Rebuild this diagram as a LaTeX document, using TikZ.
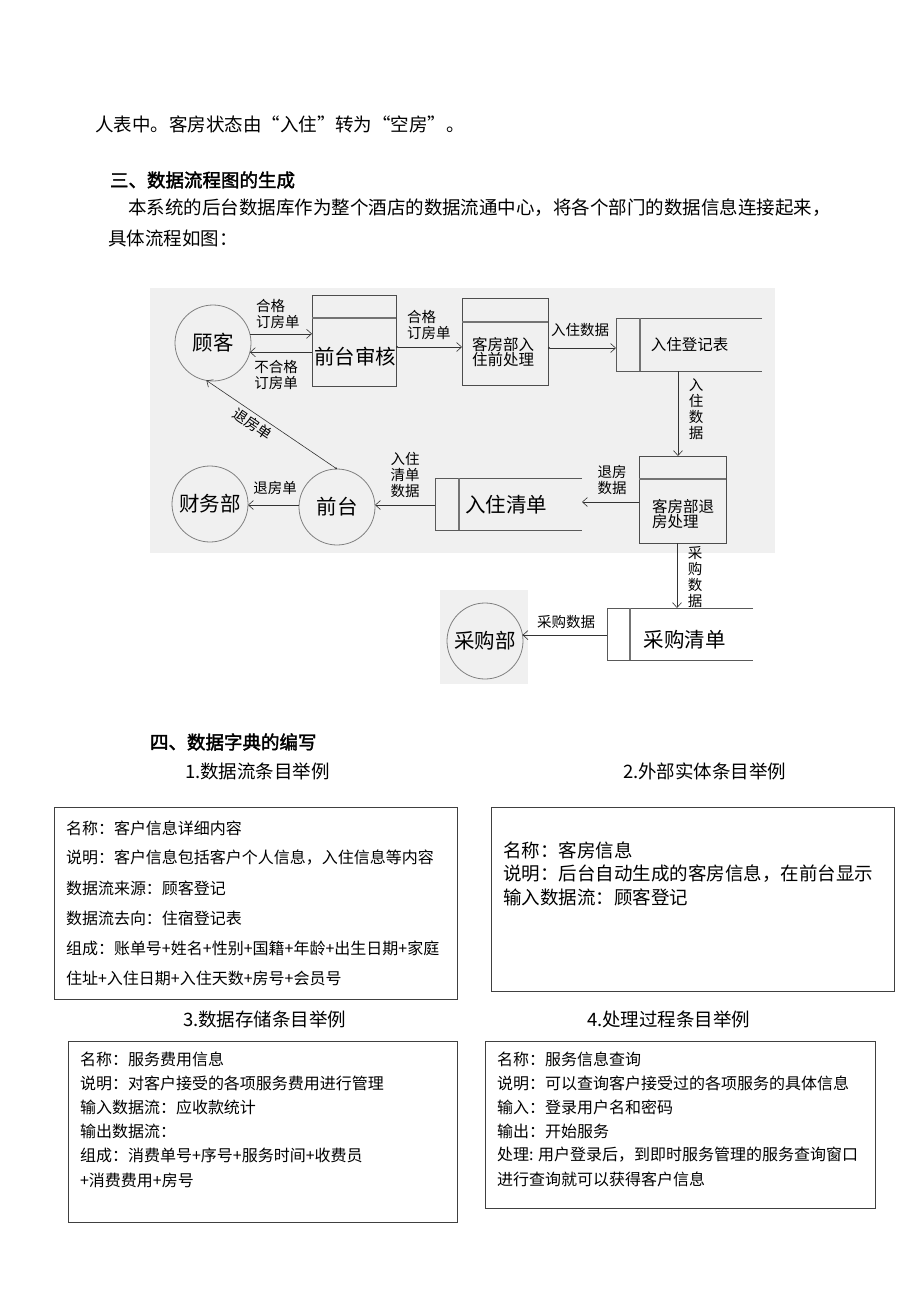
\documentclass[tikz,border=0pt]{standalone}
\usepackage{fontspec}
\setmainfont[AutoFakeBold=2]{Noto Sans CJK SC}
\usetikzlibrary{arrows.meta}
\begin{document}
\begin{tikzpicture}[x=1pt,y=-1pt,
  every node/.style={inner sep=0pt, outer sep=0pt},
  body/.style={anchor=west, font=\fontsize{18.5}{22}\selectfont},
  bodyb/.style={anchor=west, font=\fontsize{18.5}{22}\selectfont\bfseries},
  circ/.style={circle, draw=black!50, line width=0.8pt, minimum size=76pt, font=\fontsize{20.5}{24}\selectfont},
  proc/.style={rectangle, draw=black!70, line width=0.8pt},
  divl/.style={draw=black!55, line width=1.8pt},
  storebox/.style={rectangle, draw=none},
  stl/.style={draw=black!65, line width=0.8pt},
  inl/.style={draw=black!55, line width=1.6pt},
  lbl/.style={font=\fontsize{14.5}{16}\selectfont, align=left},
  vlbl/.style={font=\fontsize{14.5}{16}\selectfont, align=center},
  ptext/.style={font=\fontsize{15.5}{15}\selectfont, align=left},
  big/.style={font=\fontsize{20.5}{24}\selectfont},
  arr/.style={draw=black!80, line width=0.6pt, -{Straight Barb[length=5pt,width=9pt]}},
  darr/.style={draw=black!80, line width=0.6pt, {Circle[length=2pt]}-{Straight Barb[length=5pt,width=9pt]}},
  tbox/.style={rectangle, draw=black!75, line width=1pt},
  tline/.style={anchor=west, font=\fontsize{16}{18}\selectfont},
  tlinebig/.style={anchor=west, font=\fontsize{18.5}{20}\selectfont}
]
\useasboundingbox (0,0) rectangle (920,1302);
\fill[white] (0,0) rectangle (920,1302);

% backgrounds of the diagram picture
\fill[black!6] (150,288) rectangle (775,553);
\fill[black!6] (440,590) rectangle (528,684);

% top text
\node[body] (t1) at (95,124) {人表中。客房状态由“入住”转为“空房”。};
\node[bodyb] (t2) at (110,180) {三、数据流程图的生成};
\node[body] (t3) at (128,208) {本系统的后台数据库作为整个酒店的数据流通中心，将各个部门的数据信息连接起来，};
\node[body] (t4) at (108,238) {具体流程如图：};

% circles
\node[circ] (gk) at (213,343) {顾客};
\node[circ] (qt) at (337,507) {前台};
\node[circ] (cwb) at (210,504) {财务部};
\node[circ] (cgb) at (485,641) {采购部};

% process boxes
\node[proc, minimum width=84pt, minimum height=91pt] (qtsh) at (354,340.5) {};
\draw[divl] ([yshift=-23pt]qtsh.north west) -- ([yshift=-23pt]qtsh.north east);
\node[big] (qtshT) at (355,357) {前台审核};

\node[proc, minimum width=86pt, minimum height=87pt] (kfrz) at (505,341.5) {};
\draw[divl] ([yshift=-24pt]kfrz.north west) -- ([yshift=-24pt]kfrz.north east);
\node[ptext, anchor=west] (kfrzT) at (472,352) {客房部入\\住前处理};

\node[proc, minimum width=87pt, minimum height=87pt] (kftf) at (682.5,499.5) {};
\draw[divl] ([yshift=-23pt]kftf.north west) -- ([yshift=-23pt]kftf.north east);
\node[ptext, anchor=west] (kftfT) at (652,514) {客房部退\\房处理};

% data stores
\node[storebox, minimum width=146pt, minimum height=53pt] (rzdjb) at (689,344.5) {};
\draw[stl] (rzdjb.north east) -- (rzdjb.north west) -- (rzdjb.south west) -- (rzdjb.south east);
\draw[inl] ([xshift=24pt]rzdjb.north west) -- ([xshift=24pt]rzdjb.south west);
\node[font=\fontsize{15.5}{18}\selectfont] (rzdjbT) at (689.5,345) {入住登记表};

\node[storebox, minimum width=147pt, minimum height=52pt] (rzqd) at (508.5,504) {};
\draw[stl] (rzqd.north east) -- (rzqd.north west) -- (rzqd.south west) -- (rzqd.south east);
\draw[inl] ([xshift=24pt]rzqd.north west) -- ([xshift=24pt]rzqd.south west);
\node[big] (rzqdT) at (506,505) {入住清单};

\node[storebox, minimum width=146pt, minimum height=52pt] (cgqd) at (680,634) {};
\draw[stl] (cgqd.north east) -- (cgqd.north west) -- (cgqd.south west) -- (cgqd.south east);
\draw[inl] ([xshift=23pt]cgqd.north west) -- ([xshift=23pt]cgqd.south west);
\node[big] (cgqdT) at (684.5,640) {采购清单};

% connectors
\draw[arr] (gk.14) -- (gk.14 -| qtsh.west);
\draw[arr] (qtsh.west |- gk.-14) -- (gk.-14);
\node[lbl, anchor=west] (l1) at (256,314) {合格\\订房单};
\node[lbl, align=center] (l2) at (276,374.5) {不合格\\订房单};

\draw[darr] (qtsh.east |- 0,347) -- (kfrz.west |- 0,347);
\node[lbl, anchor=west] (l3) at (407,325) {合格\\订房单};

\draw[darr] (kfrz.east |- 0,348) -- (rzdjb.west |- 0,348);
\node[lbl] (l4) at (580,330) {入住数据};

\draw[arr] (rzdjb.south -| 678,0) -- (kftf.north -| 678,0);
\node[vlbl] (l5) at (696,409) {入\\住\\数\\据};

\draw[arr] (kftf.west |- 0,502) -- (rzqd.east |- 0,502);
\node[lbl, align=center] (l6) at (612,480) {退房\\数据};

\draw[arr] (rzqd.west |- 0,505) -- (qt.east |- 0,505);
\node[lbl, align=center] (l7) at (405,474.5) {入住\\清单\\数据};

\draw[arr] (qt.west |- 0,505) -- (cwb.east |- 0,505);
\node[lbl] (l8) at (275,488) {退房单};

\draw[darr] (qt.north) -- (gk.-100);
\node[lbl, rotate=-34.5] (l9) at (253,424) {退房单};

\draw[arr] (kftf.south -| 677,0) -- (cgqd.north -| 677,0);
\node[vlbl] (l10) at (695,577) {采\\购\\数\\据};

\draw[arr] (cgqd.west |- cgb.9) -- (cgb.9);
\node[lbl] (l11) at (566,622) {采购数据};

% section four
\node[bodyb] (h4) at (150,742) {四、数据字典的编写};
\node[body] (s1) at (185,771) {1.数据流条目举例};
\node[body] (s2) at (623,771) {2.外部实体条目举例};
\node[body] (s3) at (183,1019) {3.数据存储条目举例};
\node[body] (s4) at (587,1019) {4.处理过程条目举例};

% box 1
\node[tbox, minimum width=403pt, minimum height=192pt] (tb1) at (255.5,903) {};
\foreach \t [count=\i] in {名称：客户信息详细内容, 说明：客户信息包括客户个人信息，入住信息等内容, 数据流来源：顾客登记, 数据流去向：住宿登记表, 组成：账单号+姓名+性别+国籍+年龄+出生日期+家庭, 住址+入住日期+入住天数+房号+会员号}
  \node[tline] (tb1l\i) at (66,{828+30*(\i-1)}) {\t};

% box 2
\node[tbox, minimum width=403pt, minimum height=184pt] (tb2) at (692.5,899) {};
\foreach \t [count=\i] in {名称：客房信息, 说明：后台自动生成的客房信息，在前台显示, 输入数据流：顾客登记}
  \node[tlinebig] (tb2l\i) at (503,{850+23.5*(\i-1)}) {\t};

% box 3
\node[tbox, minimum width=389pt, minimum height=181pt] (tb3) at (262.5,1131.5) {};
\foreach \t [count=\i] in {名称：服务费用信息, 说明：对客户接受的各项服务费用进行管理, 输入数据流：应收款统计, 输出数据流：, 组成：消费单号+序号+服务时间+收费员, +消费费用+房号}
  \node[tline] (tb3l\i) at (80,{1059+24.2*(\i-1)}) {\t};

% box 4
\node[tbox, minimum width=390pt, minimum height=167pt] (tb4) at (680,1124.5) {};
\foreach \t [count=\i] in {名称：服务信息查询, 说明：可以查询客户接受过的各项服务的具体信息, 输入：登录用户名和密码, 输出：开始服务, 处理: 用户登录后，到即时服务管理的服务查询窗口, 进行查询就可以获得客户信息}
  \node[tline] (tb4l\i) at (497,{1059+24*(\i-1)}) {\t};
\end{tikzpicture}
\end{document}
